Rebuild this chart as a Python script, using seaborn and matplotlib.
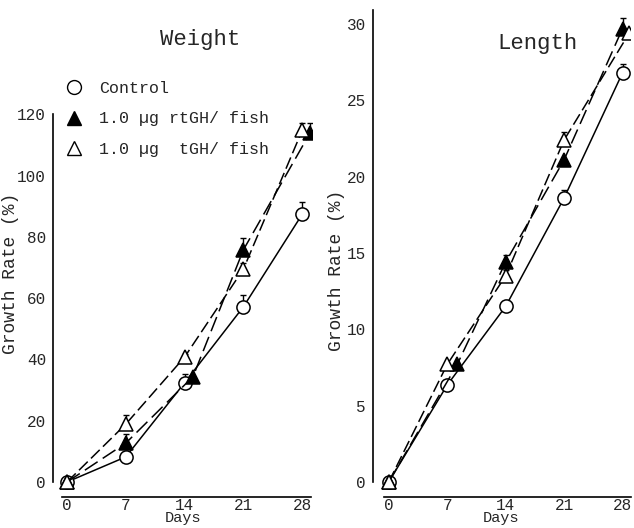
import matplotlib
matplotlib.use("Agg")
import matplotlib.pyplot as plt
import seaborn as sns
import numpy as np
from matplotlib.lines import Line2D

# days on the x axis
days = [0, 7, 14, 21, 28]

# weight panel, growth rate (%)
w_ctrl_x = [0, 7, 14, 21, 28]
w_ctrl = [0, 8.2, 32.4, 57.2, 87.4]
w_ctrl_err = [0, 0, 3, 4, 4]
w_rt_x = [0, 7, 15, 21, 28.9]
w_rt = [0, 12.7, 34.4, 75.8, 113.8]
w_rt_err = [0, 3, 0, 4, 3.5]
w_t_x = [0, 7, 14, 21, 28]
w_t = [0, 18.9, 40.8, 69.5, 114.8]
w_t_err = [0, 3, 1, 2, 2.5]

# length panel, growth rate (%)
l_ctrl_x = [0, 7, 14, 21, 28]
l_ctrl = [0, 6.35, 11.5, 18.6, 26.8]
l_ctrl_err = [0, 0, 0, 0.5, 0.6]
l_rt_x = [0, 8.2, 14, 21, 28]
l_rt = [0, 7.7, 14.4, 21.1, 29.7]
l_rt_err = [0, 0, 0.5, 0, 0.7]
l_t_x = [0, 7, 14, 21, 28.8]
l_t = [0, 7.7, 13.5, 22.4, 29.4]
l_t_err = [0, 0, 0.4, 0.5, 0.3]

labels = ["Control", "1.0 \u00b5g rtGH/ fish", "1.0 \u00b5g  tGH/ fish"]

sns.set_style("white")
plt.rcParams["font.family"] = ["Liberation Mono", "DejaVu Sans Mono"]

fig = plt.figure(figsize=(6.34, 5.28), dpi=100)
ax1 = fig.add_axes([0.0836, 0.0587, 0.409, 0.727])
ax2 = fig.add_axes([0.588, 0.0587, 0.405, 0.922])

styles = [
    dict(marker="o", mfc="white", dashes=None),
    dict(marker="^", mfc="black", dashes=(10, 4)),
    dict(marker="^", mfc="white", dashes=(8, 3)),
]


def draw(ax, series):
    for (x, y, err), st in zip(series, styles):
        sns.lineplot(x=x, y=y, ax=ax, color="black", lw=1.1, marker=st["marker"],
                     markersize=9.5, markerfacecolor=st["mfc"], markeredgecolor="black",
                     markeredgewidth=1.1, sort=False, zorder=3)
        if st["dashes"] is not None:
            ax.lines[-1].set_dashes(st["dashes"])
        up = np.array(err)[1:]
        ax.errorbar(x[1:], y[1:], yerr=[np.zeros(len(up)), up], fmt="none",
                    ecolor="black", elinewidth=1, capsize=2, zorder=2)


draw(ax1, [(w_ctrl_x, w_ctrl, w_ctrl_err), (w_rt_x, w_rt, w_rt_err), (w_t_x, w_t, w_t_err)])
draw(ax2, [(l_ctrl_x, l_ctrl, l_ctrl_err), (l_rt_x, l_rt, l_rt_err), (l_t_x, l_t, l_t_err)])

for ax, ymin, ymax, yticks, ybound in [
    (ax1, -4.9, 120.4, [0, 20, 40, 60, 80, 100, 120], (0, 120)),
    (ax2, -0.98, 30.9, [0, 5, 10, 15, 20, 25, 30], (0, 30.9)),
]:
    ax.set_ylim(ymin, ymax)
    ax.set_yticks(yticks)
    ax.set_xticks(days)
    ax.set_xticklabels([str(d) for d in days])
    for s in ["top", "right"]:
        ax.spines[s].set_visible(False)
    ax.spines["left"].set_bounds(*ybound)
    ax.spines["bottom"].set_bounds(-0.6, 29)
    for s in ["left", "bottom"]:
        ax.spines[s].set_color("black")
        ax.spines[s].set_linewidth(1.2)
    ax.tick_params(axis="x", direction="in", length=5, width=1.2, labelsize=11.5, pad=0.5)
    ax.tick_params(axis="y", direction="out", length=4, width=1, labelsize=11.5, pad=1)
    ax.set_xlabel("Days", fontsize=11, labelpad=-1)
    ax.set_ylabel("Growth Rate (%)", fontsize=13)

ax1.set_xlim(-1.67, 29.2)
ax2.set_xlim(-1.91, 28.84)
ax1.yaxis.set_label_coords(-0.13, 0.583)
ax2.yaxis.set_label_coords(-0.11, 0.466)

fig.text(0.315, 0.925, "Weight", fontsize=16, ha="center", va="center")
fig.text(0.848, 0.918, "Length", fontsize=16, ha="center", va="center")

handles = [Line2D([0], [0], ls="none", marker=st["marker"], markersize=10,
                  markerfacecolor=st["mfc"], markeredgecolor="black") for st in styles]
fig.legend(handles, labels, loc="upper left", bbox_to_anchor=(0.093, 0.86),
           frameon=False, fontsize=12, handletextpad=1.0, labelspacing=0.95,
           borderaxespad=0, handlelength=1)

fig.savefig("out.png", dpi=100)
